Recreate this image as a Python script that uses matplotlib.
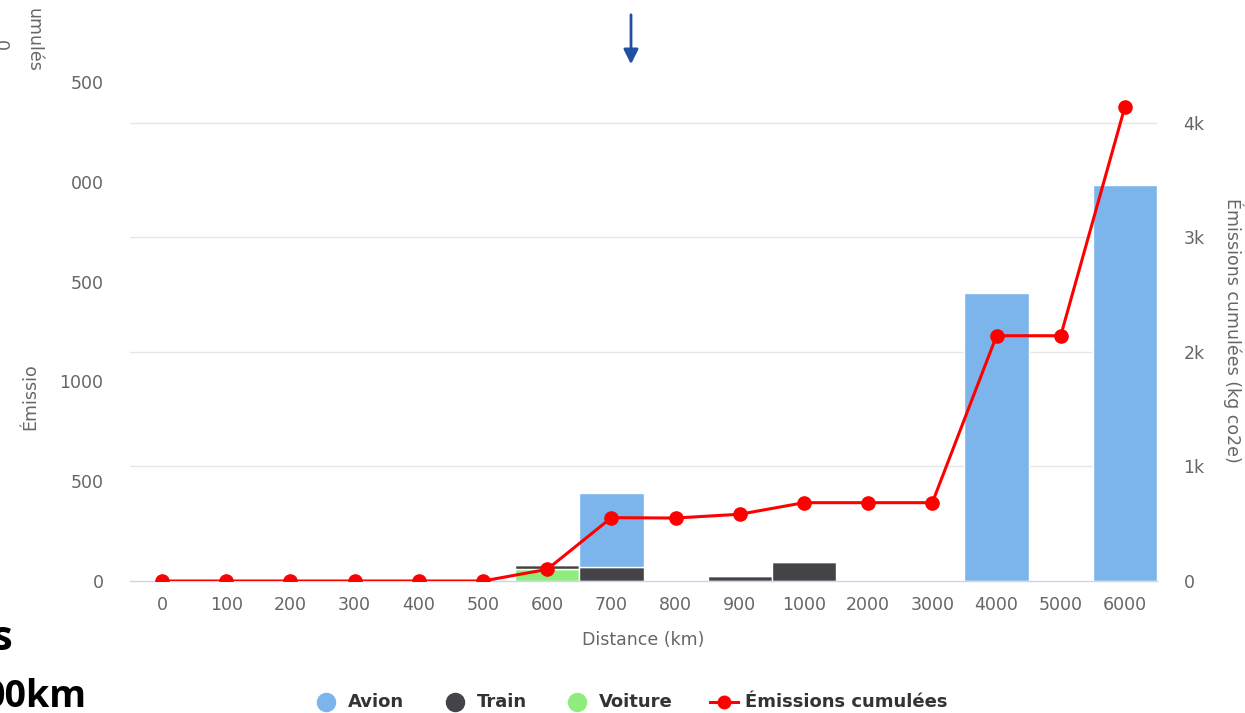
import matplotlib
matplotlib.use('Agg')
import matplotlib.pyplot as plt
import numpy as np

# distance buckets (km)
categories = ['0', '100', '200', '300', '400', '500', '600', '700', '800',
              '900', '1000', '2000', '3000', '4000', '5000', '6000']
# emissions per mode (kg co2e)
avion = [0, 0, 0, 0, 0, 0, 0, 372, 0, 0, 0, 0, 0, 1442, 0, 1985]
train = [0, 0, 0, 0, 0, 0, 22, 70, 0, 24, 94, 0, 0, 0, 0, 0]
voiture = [0, 0, 0, 0, 0, 0, 60, 0, 0, 0, 0, 0, 0, 0, 0, 0]
# cumulative emissions (right axis)
cumul = [0, 0, 0, 0, 0, 0, 102, 553, 550, 583, 684, 684, 684, 2142, 2142, 4142]

left_ticks = [0, 500, 1000, 1500, 2000, 2500]
left_labels = ['0', '500', '1000', '500', '000', '500']   # left digits are cut off in the original
right_ticks = [0, 1000, 2000, 3000, 4000]
right_labels = ['0', '1k', '2k', '3k', '4k']

W, H = 1245, 713
L, R, T, B = 130, 1157, 82, 581
GREY = '#666666'

fig = plt.figure(figsize=(W / 100, H / 100), dpi=100)
ax = fig.add_axes([L / W, 1 - B / H, (R - L) / W, (B - T) / H])

x = np.arange(len(categories))
bot1 = np.array(voiture)
bot2 = bot1 + np.array(train)
ax.bar(x, voiture, width=1, color='#90ed7d', edgecolor='white', linewidth=1, zorder=2)
ax.bar(x, train, bottom=bot1, width=1, color='#434348', edgecolor='white', linewidth=1, zorder=2)
ax.bar(x, avion, bottom=bot2, width=1, color='#7cb5ec', edgecolor='white', linewidth=1, zorder=2)

ax.set_xlim(-0.5, len(categories) - 0.5)
ax.set_ylim(0, 2500)
rmax = 4358

# grid follows the right axis but sits behind the bars
for v in right_ticks[1:]:
    ax.axhline(v * 2500 / rmax, color='#e6e6e6', lw=1, zorder=0)

ax.set_xticks(x)
ax.set_xticklabels(categories)
ax.set_yticks(left_ticks)
ax.set_yticklabels(left_labels)
ax.tick_params(axis='x', length=0, pad=11, labelsize=12.5, labelcolor=GREY)
ax.tick_params(axis='y', length=0, pad=19, labelsize=12.5, labelcolor=GREY)
for s in ['top', 'left', 'right']:
    ax.spines[s].set_visible(False)
ax.spines['bottom'].set_color('#ccd6eb')
ax.spines['bottom'].set_linewidth(1)
ax.set_xlabel('Distance (km)', fontsize=12.5, color=GREY, labelpad=12)

ax2 = ax.twinx()
ax2.set_ylim(0, rmax)
ax2.plot(x, cumul, color='#ff0000', lw=2.2, marker='o', ms=9.5, zorder=3)
ax2.set_yticks(right_ticks)
ax2.set_yticklabels(right_labels)
ax2.tick_params(axis='y', length=0, pad=19, labelsize=12.5, labelcolor=GREY)
for s in ax2.spines.values():
    s.set_visible(False)

# overlay in pixel coordinates for legend and stray texts
ov = fig.add_axes([0, 0, 1, 1])
ov.set_xlim(0, W)
ov.set_ylim(H, 0)
ov.axis('off')

ov.text(1233, 330, 'Émissions cumulées (kg co2e)', rotation=270, ha='center', va='center',
        fontsize=12.5, color=GREY)
ov.text(30, 430, 'Émissio', rotation=90, ha='center', va='bottom', fontsize=12.5, color=GREY)
ov.text(33, 72, 'umulés', rotation=270, ha='center', va='bottom', fontsize=12.5, color=GREY)
ov.text(0, 45, '0', rotation=270, ha='center', va='center', fontsize=12.5, color=GREY)

ov.text(12, 640, 's', ha='right', va='center', fontsize=30, fontweight='bold',
        family='Open Sans', color='black')
ov.text(87, 697, '00km', ha='right', va='center', fontsize=27, fontweight='bold',
        family='Open Sans', color='black')

ov.annotate('', xy=(631, 67), xytext=(631, 12),
            arrowprops=dict(arrowstyle='-|>', color='#2150a0', lw=2, mutation_scale=22))

# legend
ly = 702
items = [(326, 348, '#7cb5ec', 'Avion'), (455, 477, '#434348', 'Train'),
         (577, 599, '#90ed7d', 'Voiture')]
for cx, tx, c, lab in items:
    ov.plot([cx], [ly], 'o', color=c, ms=13)
    ov.text(tx, ly, lab, ha='left', va='center', fontsize=13, fontweight='bold', color='#333333')
ov.plot([710, 738], [ly, ly], color='#ff0000', lw=2.2)
ov.plot([724], [ly], 'o', color='#ff0000', ms=9)
ov.text(745, ly, 'Émissions cumulées', ha='left', va='center', fontsize=13,
        fontweight='bold', color='#333333')

fig.savefig('out.png', dpi=100)
